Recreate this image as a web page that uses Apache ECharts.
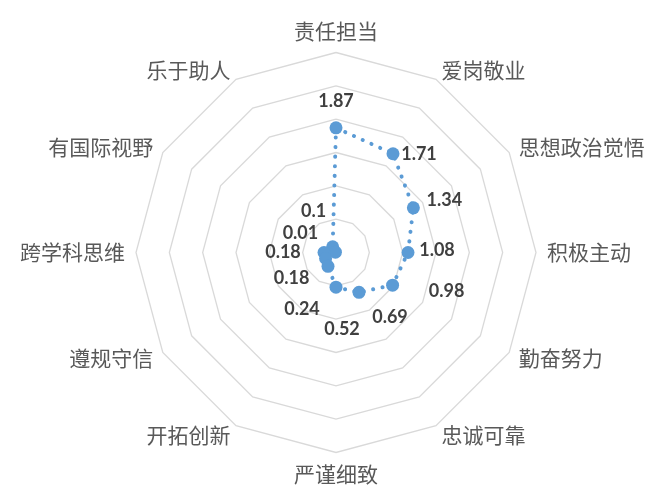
<!DOCTYPE html>
<html><head><meta charset="utf-8">
<script src="https://cdn.jsdelivr.net/npm/echarts@6/dist/echarts.min.js"></script>
<style>html,body{margin:0;padding:0;background:#fff}#c{width:656px;height:486px}</style>
</head><body><div id="c"></div>
<script>
// Indicators in clockwise order starting at the top
const categories = ['责任担当','爱岗敬业','思想政治觉悟','积极主动','勤奋努力','忠诚可靠','严谨细致','开拓创新','遵规守信','跨学科思维','有国际视野','乐于助人'];
const values = [1.87,1.71,1.34,1.08,0.98,0.69,0.52,0.24,0.18,0.18,0.01,0.1];
const axisMax = 3;
const splitCount = 6;
// label offsets (px) from each point, clockwise order
const labelOffsets = [[0,-27],[26,0],[31,-8],[29,-2],[54,6],[31,25],[6,42],[-26,43],[-34,20],[-41,0],[-35,-19],[-19,-36]];

const n = categories.length;
// ECharts lays indicators counter-clockwise; remap so they read clockwise
const order = categories.map((_, i) => (n - i) % n);
const indicators = order.map(k => ({ name: categories[k], min: 0, max: axisMax }));
const seriesValues = order.map(k => values[k]);

const chart = echarts.init(document.getElementById('c'), null, { renderer: 'canvas' });
chart.setOption({
  backgroundColor: '#ffffff',
  animation: false,
  radar: {
    center: [336, 252.5],
    radius: 200,
    startAngle: 90,
    splitNumber: splitCount,
    shape: 'polygon',
    nameGap: 11,
    indicator: indicators,
    axisName: { color: '#595959', fontSize: 21, fontFamily: '"Noto Sans CJK SC", sans-serif' },
    splitLine: { lineStyle: { color: '#d9d9d9', width: 1.3 } },
    splitArea: { show: false },
    axisLine: { show: false },
    axisTick: { show: false },
    axisLabel: { show: false }
  },
  series: [{
    type: 'radar',
    symbol: 'circle',
    symbolSize: 13,
    itemStyle: { color: '#5b9bd5' },
    lineStyle: { color: '#5b9bd5', width: 4, type: [0.1, 9.5], cap: 'round' },
    label: { show: false },
    data: [{ value: seriesValues }]
  }]
});

const radarCS = chart.getModel().getComponent('radar').coordinateSystem;
const texts = values.map((v, k) => {
  const pos = (n - k) % n;
  const p = radarCS.dataToPoint(v, pos);
  return {
    type: 'text',
    x: p[0] + labelOffsets[k][0],
    y: p[1] + labelOffsets[k][1],
    style: {
      text: String(v),
      fill: '#404040',
      font: 'bold 18px Lato, "Liberation Sans", sans-serif',
      align: 'center',
      verticalAlign: 'middle'
    },
    z: 10
  };
});
chart.setOption({ graphic: texts });
</script>
</body></html>
